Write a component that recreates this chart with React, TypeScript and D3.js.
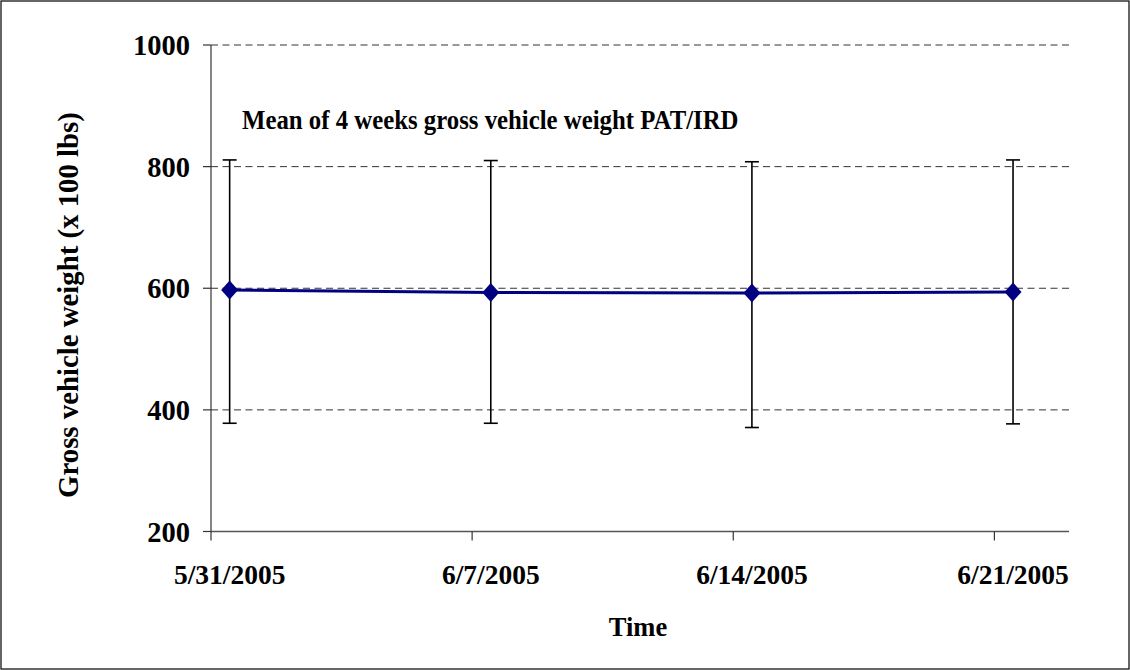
import React from "react";
import * as d3 from "d3";

// Weekly sample dates (plotted at mid-day of each date slot)
const dates = ["2005-05-31", "2005-06-07", "2005-06-14", "2005-06-21"];
const meanWeight = [597, 593, 592, 594];
const upperBound = [811, 810, 808, 811];
const lowerBound = [378, 378, 371, 377];
const yTicks = [200, 400, 600, 800, 1000];
const xTickDates = ["2005-05-31", "2005-06-07", "2005-06-14", "2005-06-21"];
const xTickLabels = ["5/31/2005", "6/7/2005", "6/14/2005", "6/21/2005"];

const W = 1130;
const H = 670;
const FONT = "'Liberation Serif', 'Times New Roman', serif";

const parse = (s: string, hour = 0) => {
  const [y, m, d] = s.split("-").map(Number);
  return new Date(y, m - 1, d, hour);
};

export default function App() {
  const x = d3
    .scaleTime()
    .domain([parse("2005-05-31"), parse("2005-06-23")])
    .range([211, 1069]);
  const y = d3.scaleLinear().domain([200, 1000]).range([531.5, 45]);

  const pts = dates.map((d, i) => ({
    x: x(parse(d, 12)),
    y: y(meanWeight[i]),
    hi: y(upperBound[i]),
    lo: y(lowerBound[i]),
  }));

  const line = d3
    .line<{ x: number; y: number }>()
    .x((p) => p.x)
    .y((p) => p.y);

  const x0 = x.range()[0];
  const x1 = x.range()[1];
  const yBase = y(200);

  return (
    <svg
      width={W}
      height={H}
      style={{ position: "absolute", left: 0, top: 0, background: "#fff" }}
      fontFamily={FONT}
      fontWeight="bold"
    >
      <rect x={1} y={1} width={W - 2} height={H - 2} fill="#fff" stroke="#000" strokeWidth={1.2} />

      {/* horizontal dashed gridlines */}
      {yTicks
        .filter((t) => t > 200)
        .map((t) => (
          <line
            key={"g" + t}
            x1={x0}
            x2={x1}
            y1={y(t)}
            y2={y(t)}
            stroke="#333"
            strokeWidth={1}
            strokeDasharray="7,4.5"
          />
        ))}

      {/* y axis */}
      <line x1={x0} x2={x0} y1={y(1000)} y2={yBase} stroke="#333" strokeWidth={1.2} />
      {yTicks.map((t) => (
        <g key={"yt" + t}>
          <line x1={x0 - 8} x2={x0} y1={y(t)} y2={y(t)} stroke="#333" strokeWidth={1.2} />
          <text x={190} y={y(t) + 10} textAnchor="end" fontSize={28.5}>
            {t}
          </text>
        </g>
      ))}

      {/* x axis */}
      <line x1={x0} x2={x1} y1={yBase} y2={yBase} stroke="#555" strokeWidth={1.5} />
      {xTickDates.map((d, i) => {
        const tx = x(parse(d));
        const lx = x(parse(d, 12));
        return (
          <g key={"xt" + d}>
            <line x1={tx} x2={tx} y1={yBase} y2={yBase + 9} stroke="#333" strokeWidth={1.2} />
            <text x={lx} y={584} textAnchor="middle" fontSize={27.5}>
              {xTickLabels[i]}
            </text>
          </g>
        );
      })}

      {/* error bars */}
      {pts.map((p, i) => (
        <g key={"eb" + i} stroke="#000" strokeWidth={1.6}>
          <line x1={p.x} x2={p.x} y1={p.hi} y2={p.lo} />
          <line x1={p.x - 7} x2={p.x + 7} y1={p.hi} y2={p.hi} />
          <line x1={p.x - 7} x2={p.x + 7} y1={p.lo} y2={p.lo} />
        </g>
      ))}

      {/* mean line */}
      <path d={line(pts) || ""} fill="none" stroke="#000080" strokeWidth={3} />
      {pts.map((p, i) => (
        <path
          key={"m" + i}
          d={`M${p.x},${p.y - 9.5}L${p.x + 8.5},${p.y}L${p.x},${p.y + 9.5}L${p.x - 8.5},${p.y}Z`}
          fill="#000080"
        />
      ))}

      {/* chart title, slightly condensed */}
      <text transform="translate(242,129) scale(0.886,1)" fontSize={28}>
        Mean of 4 weeks gross vehicle weight PAT/IRD
      </text>

      {/* axis titles */}
      <text x={638} y={636} textAnchor="middle" fontSize={26.5}>
        Time
      </text>
      <text
        transform="translate(78,305) rotate(-90)"
        textAnchor="middle"
        fontSize={28.8}
      >
        Gross vehicle weight (x 100 lbs)
      </text>
    </svg>
  );
}
